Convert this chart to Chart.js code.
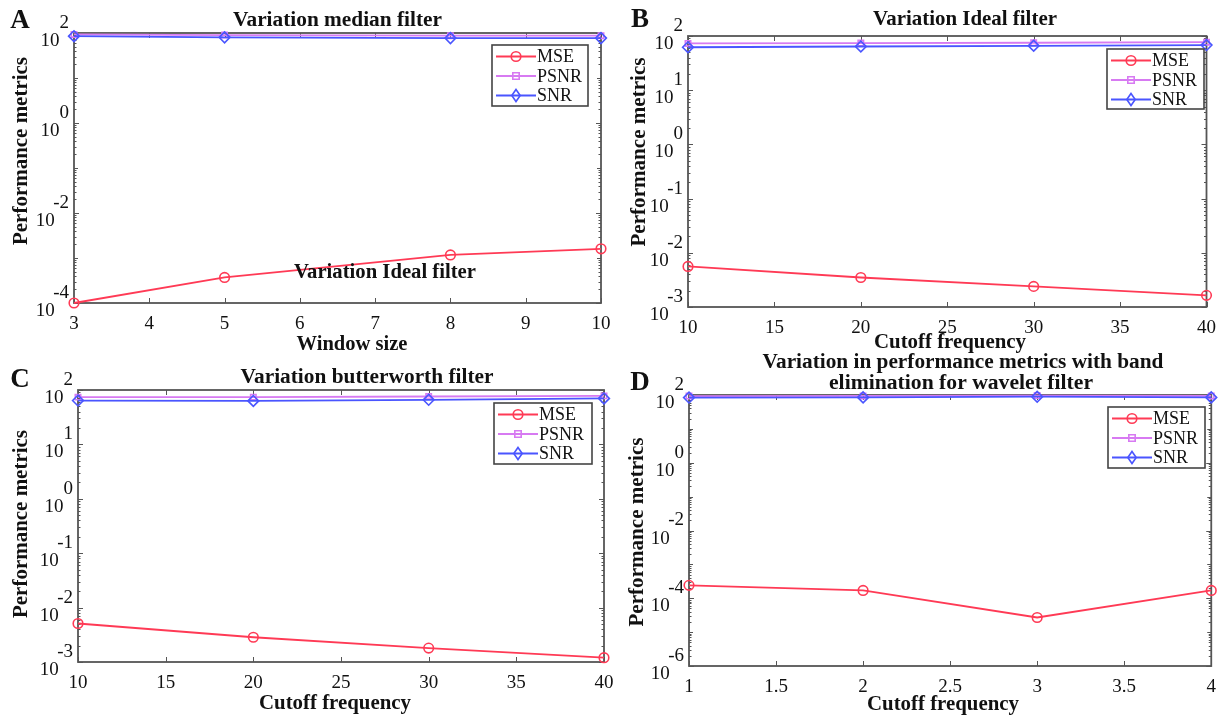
<!DOCTYPE html>
<html><head><meta charset="utf-8">
<script src="https://cdn.jsdelivr.net/npm/chart.js@4.4.0/dist/chart.umd.min.js"></script>
<style>
html,body{margin:0;padding:0;background:#fff;width:1226px;height:718px;overflow:hidden}
canvas{position:absolute;left:0;top:0}
</style></head><body>
<canvas id="k0" width="1226" height="718"></canvas>
<canvas id="k1" width="1226" height="718"></canvas>
<canvas id="k2" width="1226" height="718"></canvas>
<canvas id="k3" width="1226" height="718"></canvas>
<script>
// ---------- DATA ----------
const seriesNames = ['MSE', 'PSNR', 'SNR'];

const xA = [3, 5, 8, 10];
const mseA = [1.0e-4, 3.7e-4, 1.17e-3, 1.6e-3];
const psnrA = [93, 90, 87, 87];
const snrA = [85, 80, 77, 77];

const xB = [10, 20, 30, 40];
const mseB = [5.6e-3, 3.5e-3, 2.4e-3, 1.64e-3];
const psnrB = [73, 74, 75, 77];
const snrB = [62, 64, 66, 68];

const xC = [10, 20, 30, 40];
const mseC = [5.1e-3, 2.85e-3, 1.8e-3, 1.2e-3];
const psnrC = [74, 74, 76, 78];
const snrC = [64, 63, 66, 70];

const xD = [1, 2, 3, 4];
const mseD = [2.4e-4, 1.7e-4, 2.7e-5, 1.7e-4];
const psnrD = [93, 94, 96, 94];
const snrD = [84, 85, 89, 85];

const xTicksA = [3, 4, 5, 6, 7, 8, 9, 10];
const xTicksB = [10, 15, 20, 25, 30, 35, 40];
const xTicksC = [10, 15, 20, 25, 30, 35, 40];
const xTicksD = [1, 1.5, 2, 2.5, 3, 3.5, 4];

const yExpA = [-4, -2, 0, 2];
const yExpB = [-3, -2, -1, 0, 1, 2];
const yExpC = [-3, -2, -1, 0, 1, 2];
const yExpD = [-6, -4, -2, 0, 2];

const panelLetters = ['A', 'B', 'C', 'D'];
const titlesA = ['Variation median filter'];
const titlesB = ['Variation Ideal filter'];
const titlesC = ['Variation butterworth filter'];
const titlesD = ['Variation in performance metrics with band', 'elimination for wavelet filter'];
const strayTextA = 'Variation Ideal filter';
const xTitles = ['Window size', 'Cutoff frequency', 'Cutoff frequency', 'Cutoff frequency'];
const yTitle = 'Performance metrics';

// ---------- STYLE / LAYOUT ----------
const W = 1226, H = 718;
const SERIF = '"Liberation Serif", "DejaVu Serif", serif';
const RED = '#ff3a55', MAG = '#d77af2', BLUE = '#4a55ff', AX = '#555555';

const panels = [
  { x: xA, mse: mseA, psnr: psnrA, snr: snrA, xTicks: xTicksA, yExp: yExpA,
    area: { l: 74, r: 601, t: 33, b: 303 },
    letter: { x: 20, y: 21 },
    titles: [{ t: titlesA[0], cx: 337.5, cy: 20, w: 209 }],
    extra: [{ t: strayTextA, cx: 385, cy: 273, w: 182 }],
    xt: { cx: 352, cy: 345, w: 111 }, yt: { cx: 22, cy: 151, w: 188 },
    legend: { x: 492, y: 45, w: 96, h: 61 } },
  { x: xB, mse: mseB, psnr: psnrB, snr: snrB, xTicks: xTicksB, yExp: yExpB,
    area: { l: 688, r: 1217, t: 36, b: 307 },
    letter: { x: 640, y: 20 },
    titles: [{ t: titlesB[0], cx: 965, cy: 20, w: 184 }],
    extra: [],
    xt: { cx: 950, cy: 343, w: 152 }, yt: { cx: 640, cy: 152, w: 189 },
    legend: { x: 1107, y: 49, w: 97, h: 60 } },
  { x: xC, mse: mseC, psnr: psnrC, snr: snrC, xTicks: xTicksC, yExp: yExpC,
    area: { l: 78, r: 604, t: 390, b: 662 },
    letter: { x: 20, y: 380 },
    titles: [{ t: titlesC[0], cx: 367, cy: 377, w: 253 }],
    extra: [],
    xt: { cx: 335, cy: 704, w: 152 }, yt: { cx: 22, cy: 524, w: 188 },
    legend: { x: 494, y: 403, w: 98, h: 61 } },
  { x: xD, mse: mseD, psnr: psnrD, snr: snrD, xTicks: xTicksD, yExp: yExpD,
    area: { l: 689, r: 1218, t: 395, b: 666 },
    letter: { x: 640, y: 383 },
    titles: [{ t: titlesD[0], cx: 963, cy: 362, w: 401 }, { t: titlesD[1], cx: 961, cy: 383, w: 264 }],
    extra: [],
    xt: { cx: 943, cy: 705, w: 152 }, yt: { cx: 638, cy: 532, w: 189 },
    legend: { x: 1108, y: 407, w: 97, h: 61 } }
];

function fitText(ctx, str, cx, cy, target, bold, rot) {
  ctx.save();
  let size = 20;
  ctx.font = (bold ? 'bold ' : '') + size + 'px ' + SERIF;
  const m = ctx.measureText(str).width;
  if (target) size = size * target / m;
  ctx.font = (bold ? 'bold ' : '') + size.toFixed(2) + 'px ' + SERIF;
  ctx.fillStyle = '#111';
  ctx.textAlign = 'center';
  ctx.textBaseline = 'middle';
  ctx.translate(cx, cy);
  if (rot) ctx.rotate(-Math.PI / 2);
  ctx.fillText(str, 0, 0);
  ctx.restore();
}

function drawMarker(ctx, style, x, y, color) {
  ctx.save();
  ctx.strokeStyle = color; ctx.lineWidth = 1.6;
  ctx.beginPath();
  if (style === 'circle') ctx.arc(x, y, 4.8, 0, Math.PI * 2);
  else if (style === 'rect') ctx.rect(x - 3.2, y - 3.2, 6.4, 6.4);
  else { ctx.moveTo(x, y - 6); ctx.lineTo(x + 4.2, y); ctx.lineTo(x, y + 6); ctx.lineTo(x - 4.2, y); ctx.closePath(); }
  ctx.stroke();
  ctx.restore();
}

const decor = {
  id: 'decor',
  beforeDatasetsDraw(chart) {
    const P = chart.options.plugins.decor.P;
    const ctx = chart.ctx, a = chart.chartArea;
    const xs = chart.scales.x, ys = chart.scales.y;
    ctx.save();
    ctx.strokeStyle = AX; ctx.lineWidth = 1.8;
    ctx.strokeRect(a.left, a.top, a.right - a.left, a.bottom - a.top);
    ctx.lineWidth = 1;
    ctx.beginPath();
    P.xTicks.forEach(v => {
      const px = Math.round(xs.getPixelForValue(v)) + 0.5;
      ctx.moveTo(px, a.bottom); ctx.lineTo(px, a.bottom - 5);
      ctx.moveTo(px, a.top); ctx.lineTo(px, a.top + 5);
    });
    const e0 = P.yExp[0], e1 = P.yExp[P.yExp.length - 1];
    for (let e = e0; e <= e1; e++) {
      const major = P.yExp.includes(e);
      const py = Math.round(ys.getPixelForValue(Math.pow(10, e))) + 0.5;
      const L = major ? 5 : 4;
      ctx.moveTo(a.left, py); ctx.lineTo(a.left + L, py);
      ctx.moveTo(a.right, py); ctx.lineTo(a.right - L, py);
      if (e < e1) {
        for (let k = 2; k <= 9; k++) {
          const q = Math.round(ys.getPixelForValue(k * Math.pow(10, e))) + 0.5;
          ctx.moveTo(a.left, q); ctx.lineTo(a.left + 2.5, q);
          ctx.moveTo(a.right, q); ctx.lineTo(a.right - 2.5, q);
        }
      }
    }
    ctx.stroke();
    ctx.restore();
  },
  afterDraw(chart) {
    const P = chart.options.plugins.decor.P;
    const idx = chart.options.plugins.decor.idx;
    const ctx = chart.ctx;
    ctx.save();
    ctx.font = 'bold 27px ' + SERIF; ctx.fillStyle = '#111';
    ctx.textAlign = 'center'; ctx.textBaseline = 'middle';
    ctx.fillText(panelLetters[idx], P.letter.x, P.letter.y);
    ctx.restore();
    P.titles.forEach(t => fitText(ctx, t.t, t.cx, t.cy, t.w, true, false));
    P.extra.forEach(t => fitText(ctx, t.t, t.cx, t.cy, t.w, true, false));
    fitText(ctx, xTitles[idx], P.xt.cx, P.xt.cy, P.xt.w, true, false);
    fitText(ctx, yTitle, P.yt.cx, P.yt.cy, P.yt.w, true, true);
    // legend
    const L = P.legend;
    ctx.save();
    ctx.fillStyle = '#fff';
    ctx.fillRect(L.x, L.y, L.w, L.h);
    ctx.strokeStyle = '#444'; ctx.lineWidth = 1.6;
    ctx.strokeRect(L.x, L.y, L.w, L.h);
    const styles = ['circle', 'rect', 'rectRot'];
    chart.data.datasets.forEach((d, i) => {
      const ry = L.y + 11.5 + i * 19.5;
      ctx.strokeStyle = d.borderColor; ctx.lineWidth = 1.8;
      ctx.beginPath(); ctx.moveTo(L.x + 4, ry); ctx.lineTo(L.x + 44, ry); ctx.stroke();
      drawMarker(ctx, styles[i], L.x + 24, ry, d.borderColor);
      ctx.fillStyle = '#111'; ctx.font = '18px ' + SERIF;
      ctx.textAlign = 'left'; ctx.textBaseline = 'middle';
      ctx.fillText(d.label, L.x + 45, ry + 1);
    });
    ctx.restore();
  }
};

function supPad(s) {
  let p = '';
  for (const ch of s) p += (ch === '-' ? '\u2005' : '\u2007');
  return p;
}

function build(idx) {
  const P = panels[idx];
  const a = P.area;
  const mk = (vals) => P.x.map((x, j) => ({ x: x, y: vals[j] }));
  const common = { borderWidth: 1.8, pointBorderWidth: 1.6, pointBackgroundColor: 'rgba(0,0,0,0)', tension: 0, clip: false, fill: false };
  const datasets = [
    Object.assign({ label: seriesNames[0], data: mk(P.mse), borderColor: RED, pointBorderColor: RED, pointStyle: 'circle', pointRadius: 4.8, order: 2 }, common),
    Object.assign({ label: seriesNames[1], data: mk(P.psnr), borderColor: MAG, pointBorderColor: MAG, pointStyle: 'rect', pointRadius: 3.8, order: 1 }, common),
    Object.assign({ label: seriesNames[2], data: mk(P.snr), borderColor: BLUE, pointBorderColor: BLUE, pointStyle: 'rectRot', pointRadius: 5.4, order: 0 }, common)
  ];
  new Chart(document.getElementById('k' + idx), {
    type: 'line',
    data: { datasets: datasets },
    options: {
      responsive: false, animation: false, devicePixelRatio: 1,
      events: [],
      layout: { padding: { left: 0, top: a.t, right: W - a.r, bottom: 0 } },
      plugins: { legend: { display: false }, title: { display: false }, tooltip: { enabled: false },
                 decor: { P: P, idx: idx } },
      scales: {
        x: {
          type: 'linear', min: P.xTicks[0], max: P.xTicks[P.xTicks.length - 1],
          afterFit(s) { s.height = H - a.b; },
          afterBuildTicks(s) { s.ticks = P.xTicks.map(v => ({ value: v })); },
          grid: { drawOnChartArea: false, drawTicks: false, color: 'rgba(0,0,0,0)' },
          border: { display: false },
          ticks: { padding: 10, autoSkip: false, maxRotation: 0, color: '#111',
                   font: { family: SERIF, size: 19 },
                   callback: (v, i) => String(P.xTicks[i]) }
        },
        y: {
          type: 'logarithmic',
          min: Math.pow(10, P.yExp[0]), max: Math.pow(10, P.yExp[P.yExp.length - 1]),
          afterFit(s) { s.width = a.l; },
          afterBuildTicks(s) { s.ticks = P.yExp.map(e => ({ value: Math.pow(10, e) })); },
          grid: { drawOnChartArea: false, drawTicks: false, color: 'rgba(0,0,0,0)' },
          border: { display: false },
          ticks: { padding: 5, autoSkip: false, color: '#111', labelOffset: -1,
                   font: { family: SERIF, size: 19, lineHeight: 0.95 },
                   callback: (v, i) => { const e = String(P.yExp[i]); return [e, '10' + supPad(e)]; } }
        }
      }
    },
    plugins: [decor]
  });
}

[0, 1, 2, 3].forEach(build);
</script>
</body></html>
